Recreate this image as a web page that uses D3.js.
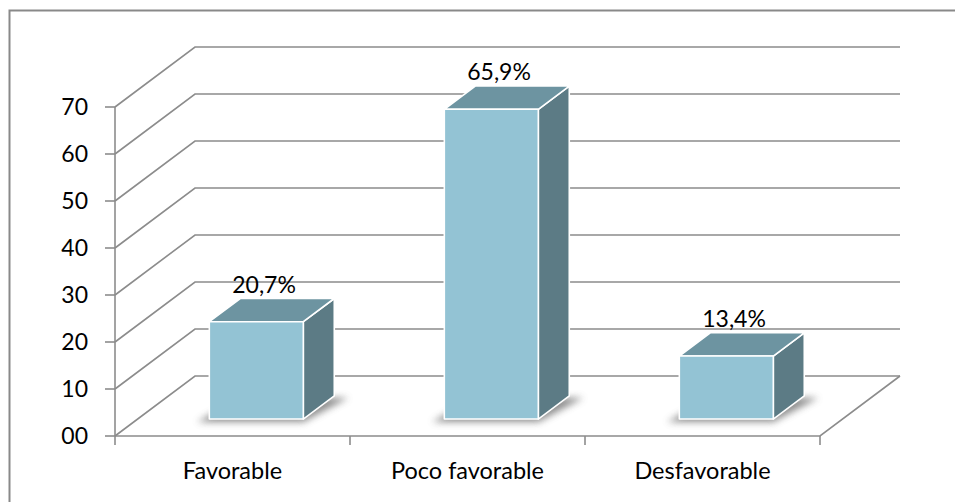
<!DOCTYPE html>
<html>
<head>
<meta charset="utf-8">
<script src="https://cdn.jsdelivr.net/npm/d3@7/dist/d3.min.js"></script>
<style>
  html, body { margin: 0; padding: 0; background: #fff; }
  svg { display: block; }
  text { font-family: Lato, "Open Sans", sans-serif; fill: #000; }
</style>
</head>
<body>
<svg id="chart" width="955" height="502"></svg>
<script>
const categories = ["Favorable", "Poco favorable", "Desfavorable"];
const values = [20.7, 65.9, 13.4];
const valueLabels = ["20,7%", "65,9%", "13,4%"];
const yTicks = [0, 10, 20, 30, 40, 50, 60, 70];
const yTickLabels = ["00", "10", "20", "30", "40", "50", "60", "70"];

const svg = d3.select("#chart");

// frame
svg.append("rect").attr("x", 9.5).attr("y", 10.5).attr("width", 1000).attr("height", 600)
  .attr("fill", "#fff").attr("stroke", "#898989").attr("stroke-width", 2);

const plotL = 115, plotR = 820, plotB = 436, plotT = 107;
const DX = 80, DY = -60;            // depth projection
const f0 = 0.283, f1 = 0.67;        // bar depth fraction (front, back)

const x = d3.scaleBand().domain(categories).range([plotL, plotR]).paddingInner(0).paddingOuter(0);
const y = d3.scaleLinear().domain([0, 70]).range([plotB, plotT]);
const bw = x.bandwidth();

const gridColor = "#8c8c8c";
const grid = svg.append("g").attr("stroke", gridColor).attr("stroke-width", 1.6).attr("fill", "none");

yTicks.forEach(t => {
  const yy = y(t);
  grid.append("path").attr("d", `M${plotL},${yy}L${plotL + DX},${yy + DY}L${plotR + DX},${yy + DY}`);
});
grid.append("path").attr("d", `M${plotR + DX},${y(0) + DY}L${plotR},${y(0)}L${plotL},${y(0)}`);
grid.append("line").attr("x1", plotL).attr("x2", plotL).attr("y1", y(70)).attr("y2", y(0));
yTicks.forEach(t => {
  grid.append("line").attr("x1", plotL - 10).attr("x2", plotL).attr("y1", y(t)).attr("y2", y(t));
});
const bounds = categories.map(c => x(c)).concat([plotR]);
bounds.forEach(b => {
  grid.append("line").attr("x1", b).attr("x2", b).attr("y1", y(0)).attr("y2", y(0) + 9);
});

// y tick labels
svg.append("g").selectAll("text").data(yTicks).join("text")
  .attr("x", plotL - 27).attr("y", d => y(d)).attr("dy", "0.36em")
  .attr("text-anchor", "end").style("font-size", "23px")
  .text((d, i) => yTickLabels[i]);

// category labels
svg.append("g").selectAll("text").data(categories).join("text")
  .attr("x", d => x(d) + bw / 2).attr("y", 479)
  .attr("text-anchor", "middle").style("font-size", "23.5px")
  .text(d => d);

const defs = svg.append("defs");
defs.append("filter").attr("id", "blur").attr("x", "-50%").attr("y", "-50%").attr("width", "200%").attr("height", "200%")
  .append("feGaussianBlur").attr("stdDeviation", 3.5);

const bars = svg.append("g");
const ddx = DX * (f1 - f0), ddy = DY * (f1 - f0);
const bw2 = bw * 0.4;
values.forEach((v, i) => {
  const c = categories[i];
  const bx = x(c) + bw * 0.305 + DX * f0;
  const bottom = y(0) + DY * f0;
  const top = y(v) + DY * f0;
  bars.append("path")
    .attr("d", `M${bx - 12},${bottom + 3}L${bx + bw2},${bottom + 3}L${bx + bw2 + ddx + 14},${bottom + ddy + 2}L${bx + ddx},${bottom + ddy + 2}Z`)
    .attr("fill", "#6b6b6b").attr("opacity", 0.75).attr("filter", "url(#blur)");
  const g = bars.append("g").attr("stroke", "#fff").attr("stroke-width", 1.6).attr("stroke-linejoin", "round");
  g.append("path").attr("fill", "#5c7b85")
    .attr("d", `M${bx + bw2},${top}L${bx + bw2 + ddx},${top + ddy}L${bx + bw2 + ddx},${bottom + ddy}L${bx + bw2},${bottom}Z`);
  g.append("path").attr("fill", "#6d94a1")
    .attr("d", `M${bx},${top}L${bx + bw2},${top}L${bx + bw2 + ddx},${top + ddy}L${bx + ddx},${top + ddy}Z`);
  g.append("rect").attr("fill", "#93c3d4")
    .attr("x", bx).attr("y", top).attr("width", bw2).attr("height", bottom - top);
  svg.append("text").attr("x", bx + bw2 / 2 + ddx * 0.25).attr("y", top - 29)
    .attr("text-anchor", "middle").style("font-size", "23px").text(valueLabels[i]);
});
</script>
</body>
</html>
